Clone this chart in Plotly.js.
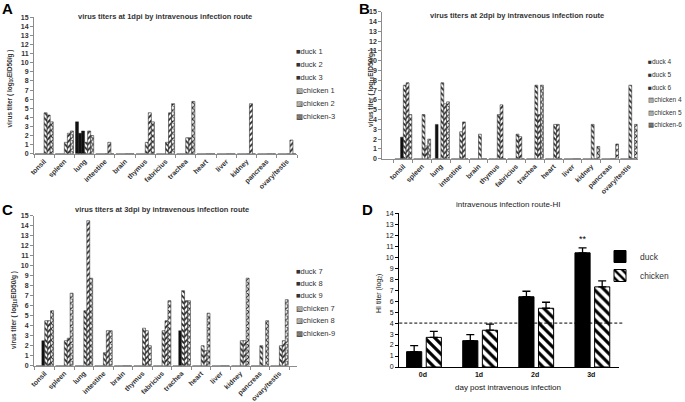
<!DOCTYPE html>
<html>
<head>
<meta charset="utf-8">
<script src="https://cdn.plot.ly/plotly-3.0.1.min.js"></script>
<style>html,body{margin:0;padding:0;background:#fff}</style>
</head>
<body>
<div id="myPlot" style="width:685px;height:402px"></div>
<script>
const myPlot = document.getElementById('myPlot');

/**
 * Data
 */
const organs = ['tonsil', 'spleen', 'lung', 'intestine', 'brain', 'thymus', 'fabricius',
  'trachea', 'heart', 'liver', 'kidney', 'pancreas', 'ovary/testis'];

// 1 dpi (panel A)
const namesA = ['duck 1', 'duck 2', 'duck 3', 'chicken 1', 'chicken 2', 'chicken-3'];
const duck1 = [0, 0, 3.5, 0, 0, 0, 0, 0, 0, 0, 0, 0, 0];
const duck2 = [0, 0, 2.25, 0, 0, 0, 0, 0, 0, 0, 0, 0, 0];
const duck3 = [0, 0, 2.5, 0, 0, 0, 0, 0, 0, 0, 0, 0, 0];
const chicken1 = [4.5, 1.25, 1.25, 0, 0, 1.25, 1.25, 1.75, 0, 0, 0, 0, 0];
const chicken2 = [4.25, 2.25, 2.5, 1.25, 0, 4.5, 4.5, 1.75, 0, 0, 5.5, 0, 1.5];
const chicken3 = [3.5, 2.5, 2.0, 0, 0, 3.5, 5.5, 5.75, 0, 0, 0, 0, 0];

// 2 dpi (panel B)
const namesB = ['duck 4', 'duck 5', 'duck 6', 'chicken 4', 'chicken 5', 'chicken-6'];
const duck4 = [0, 0, 0, 0, 0, 0, 0, 0, 0, 0, 0, 0, 0];
const duck5 = [0, 0, 3.5, 0, 0, 0, 0, 0, 0, 0, 0, 0, 0];
const duck6 = [2.2, 0, 0, 0, 0, 0, 0, 0, 0, 0, 0, 0, 0];
const chicken4 = [7.5, 4.5, 7.75, 2.75, 2.5, 4.5, 2.5, 7.5, 3.5, 0, 3.5, 0, 7.5];
const chicken5 = [7.75, 1.3, 5.6, 3.75, 0, 5.5, 2.25, 4.5, 3.5, 0, 0, 0, 0];
const chicken6 = [4.5, 2.0, 5.8, 0, 0, 0, 0, 7.5, 0, 0, 1.25, 1.5, 3.5];

// 3 dpi (panel C)
const namesC = ['duck 7', 'duck 8', 'duck 9', 'chicken 7', 'chicken 8', 'chicken-9'];
const duck7 = [0, 0, 0, 0, 0, 0, 0, 0, 0, 0, 0, 0, 0];
const duck8 = [0, 0, 0, 0, 0, 0, 0, 0, 0, 0, 0, 0, 0];
const duck9 = [2.5, 0, 0, 0, 0, 0, 0, 3.5, 0, 0, 0, 0, 0];
const chicken7 = [4.5, 2.5, 5.5, 1.3, 0, 3.75, 3.5, 7.5, 2.0, 0, 2.5, 2.0, 2.0];
const chicken8 = [4.5, 2.75, 14.5, 3.5, 0, 3.5, 4.5, 6.5, 1.5, 0, 2.5, 0, 2.5];
const chicken9 = [5.5, 7.25, 8.75, 3.5, 0, 2.0, 6.5, 6.5, 5.25, 0, 8.75, 4.5, 6.6];

// HI titer (panel D)
const days = ['0d', '1d', '2d', '3d'];
const duckHI = [1.4, 2.4, 6.4, 10.4];
const duckErr = [0.55, 0.55, 0.5, 0.45];
const chickenHI = [2.7, 3.35, 5.35, 7.3];
const chickenErr = [0.55, 0.55, 0.55, 0.55];

/**
 * Helpers
 */
const W = 685, H = 402;
const px = x => x / W;
const py = y => 1 - y / H;
const FONT = 'Liberation Sans, Arial, sans-serif';
const hatch = ['\\', '/', 'x'];

const organTraces = (names, series, xa, ya) => series.map((vals, i) => ({
  type: 'bar', x: organs, y: vals, name: names[i], xaxis: xa, yaxis: ya,
  showlegend: false, hoverinfo: 'skip',
  marker: i < 3
    ? {color: '#111', line: {color: '#111', width: 0.4}}
    : {color: '#fff', line: {color: '#333', width: 0.6},
       pattern: {shape: hatch[i - 3], fgcolor: '#222', bgcolor: '#fff', size: 4, solidity: 0.45, fillmode: 'replace'}}
}));

const organX = (x0, x1, anchor, range) => ({
  domain: [px(x0), px(x1)], anchor: anchor, type: 'category', range: range,
  showline: true, linecolor: '#8c8c8c', linewidth: 1, ticks: 'outside', ticklen: 3,
  tickcolor: '#8c8c8c', tickson: 'boundaries', tickangle: -45, showgrid: false, zeroline: false,
  tickfont: {family: FONT, size: 7, color: '#333', weight: 'bold'}
});

const organY = (y0, y1, anchor) => ({
  domain: [py(y0), py(y1)], anchor: anchor, range: [0, 15], dtick: 1,
  showline: true, linecolor: '#8c8c8c', linewidth: 1, ticks: 'outside', ticklen: 3,
  tickcolor: '#8c8c8c', showgrid: false, zeroline: false,
  tickfont: {family: FONT, size: 7, color: '#333', weight: 'bold'}
});

const note = (text, x, y, opts) => Object.assign({
  text: text, x: px(x), y: py(y), xref: 'paper', yref: 'paper', showarrow: false,
  xanchor: 'center', yanchor: 'middle',
  font: {family: FONT, size: 7.5, color: '#333', weight: 'bold'}
}, opts || {});

// Excel-style legend drawn as text lines
const textLegend = (names, x, y0, step, size) => names.map((n, i) =>
  note((i < 3 ? '\u25A0' : ['\u25A7', '\u25A8', '\u25A9'][i - 3]) + n, x, y0 + i * step,
    {xanchor: 'left', font: {family: FONT + ', DejaVu Sans', size: size, color: '#333'}}));

/**
 * Traces
 */
const data = [].concat(
  organTraces(namesA, [duck1, duck2, duck3, chicken1, chicken2, chicken3], 'x', 'y'),
  organTraces(namesB, [duck4, duck5, duck6, chicken4, chicken5, chicken6], 'x2', 'y2'),
  organTraces(namesC, [duck7, duck8, duck9, chicken7, chicken8, chicken9], 'x3', 'y3'),
  [
    {
      type: 'bar', x: days, y: duckHI, name: 'duck', xaxis: 'x4', yaxis: 'y4',
      width: 0.27, offset: -0.29, hoverinfo: 'skip',
      marker: {color: '#000', line: {color: '#000', width: 1}},
      error_y: {type: 'data', symmetric: false, array: duckErr, arrayminus: [0, 0, 0, 0],
        color: '#000', thickness: 1.3, width: 4}
    },
    {
      type: 'bar', x: days, y: chickenHI, name: 'chicken', xaxis: 'x4', yaxis: 'y4',
      width: 0.27, offset: 0.06, hoverinfo: 'skip',
      marker: {color: '#fff', line: {color: '#000', width: 1},
        pattern: {shape: '\\', fgcolor: '#000', bgcolor: '#fff', size: 7, solidity: 0.45, fillmode: 'replace'}},
      error_y: {type: 'data', symmetric: false, array: chickenErr, arrayminus: [0, 0, 0, 0],
        color: '#000', thickness: 1.3, width: 4}
    }
  ]
);

/**
 * Layout
 */
const ytitle = 'virus titer ( log<sub>10</sub>EID50/g )';
const letterFont = {family: FONT, size: 15, color: '#000', weight: 'bold'};
const ytitleFont = {family: FONT, size: 6.5, color: '#333', weight: 'bold'};

const layout = {
  width: W, height: H, autosize: false,
  margin: {l: 0, r: 0, t: 0, b: 0},
  paper_bgcolor: '#fff', plot_bgcolor: 'rgba(0,0,0,0)',
  barmode: 'group', bargap: 0.1, bargroupgap: 0,
  font: {family: FONT, color: '#333'},
  xaxis: organX(34, 297, 'y', [-0.5, 12.5]),
  yaxis: organY(153.7, 17.3, 'x'),
  xaxis2: organX(382.3, 637.7, 'y2', [-1.12, 12.47]),
  yaxis2: organY(158.7, 11.7, 'x2'),
  xaxis3: organX(34, 297, 'y3', [-0.55, 12.9]),
  yaxis3: organY(365.7, 215.7, 'x3'),
  xaxis4: {
    domain: [px(399.3), px(619.3)], anchor: 'y4', type: 'category', range: [-0.42, 3.5],
    showline: true, linecolor: '#000', linewidth: 1.3, ticks: '', showgrid: false, zeroline: false,
    tickfont: {family: FONT, size: 7, color: '#111', weight: 'bold'}
  },
  yaxis4: {
    domain: [py(367), py(213.3)], anchor: 'x4', range: [0, 14], dtick: 1,
    showline: true, linecolor: '#000', linewidth: 1.3, ticks: 'outside', ticklen: 3,
    tickcolor: '#000', showgrid: false, zeroline: false,
    tickfont: {family: FONT, size: 7, color: '#111'}
  },
  legend: {
    x: px(600), y: py(266), xanchor: 'left', yanchor: 'middle',
    bgcolor: 'rgba(0,0,0,0)', tracegroupgap: 0,
    font: {family: FONT, size: 8.5, color: '#333'}
  },
  shapes: [
    {type: 'line', xref: 'x4 domain', yref: 'y4', x0: 0, x1: 1.017, y0: 4, y1: 4,
      line: {color: '#000', width: 1, dash: '3px,2px'}}
  ],
  annotations: [].concat(
    [
      note('A', 7, 9, {font: letterFont}),
      note('B', 364, 9, {font: letterFont}),
      note('C', 7, 209, {font: letterFont}),
      note('D', 367, 209, {font: letterFont}),
      note('virus titers at 1dpi by intravenous infection route', 164.5, 16),
      note('virus titers at 2dpi by intravenous infection route', 517, 15.7),
      note('virus titers at 3dpi by intravenous infection route', 162, 210),
      note('intravenous infection route-HI', 508.5, 204.7, {font: {family: FONT, size: 8, color: '#222'}}),
      note(ytitle, 9, 88.5, {textangle: -90, font: ytitleFont}),
      note(ytitle, 371, 88, {textangle: -90, font: ytitleFont}),
      note(ytitle, 14, 310, {textangle: -90, font: ytitleFont}),
      note('HI titer (log<sub>2</sub>)', 379, 293, {textangle: -90, font: {family: FONT, size: 7, color: '#111'}}),
      note('day post intravenous infection', 508, 387, {font: {family: FONT, size: 8, color: '#111'}}),
      {text: '**', x: '3d', xref: 'x4', y: 11.0, yref: 'y4', xshift: -8.5, yanchor: 'bottom',
        showarrow: false, font: {family: FONT, size: 9, color: '#000'}}
    ],
    textLegend(namesA, 294, 52, 12.9, 7.5),
    textLegend(namesB, 646, 62, 12.6, 6.5),
    textLegend(namesC, 294, 271, 12.4, 7.5)
  )
};

Plotly.newPlot(myPlot, data, layout, {staticPlot: true, displayModeBar: false});
</script>
</body>
</html>
